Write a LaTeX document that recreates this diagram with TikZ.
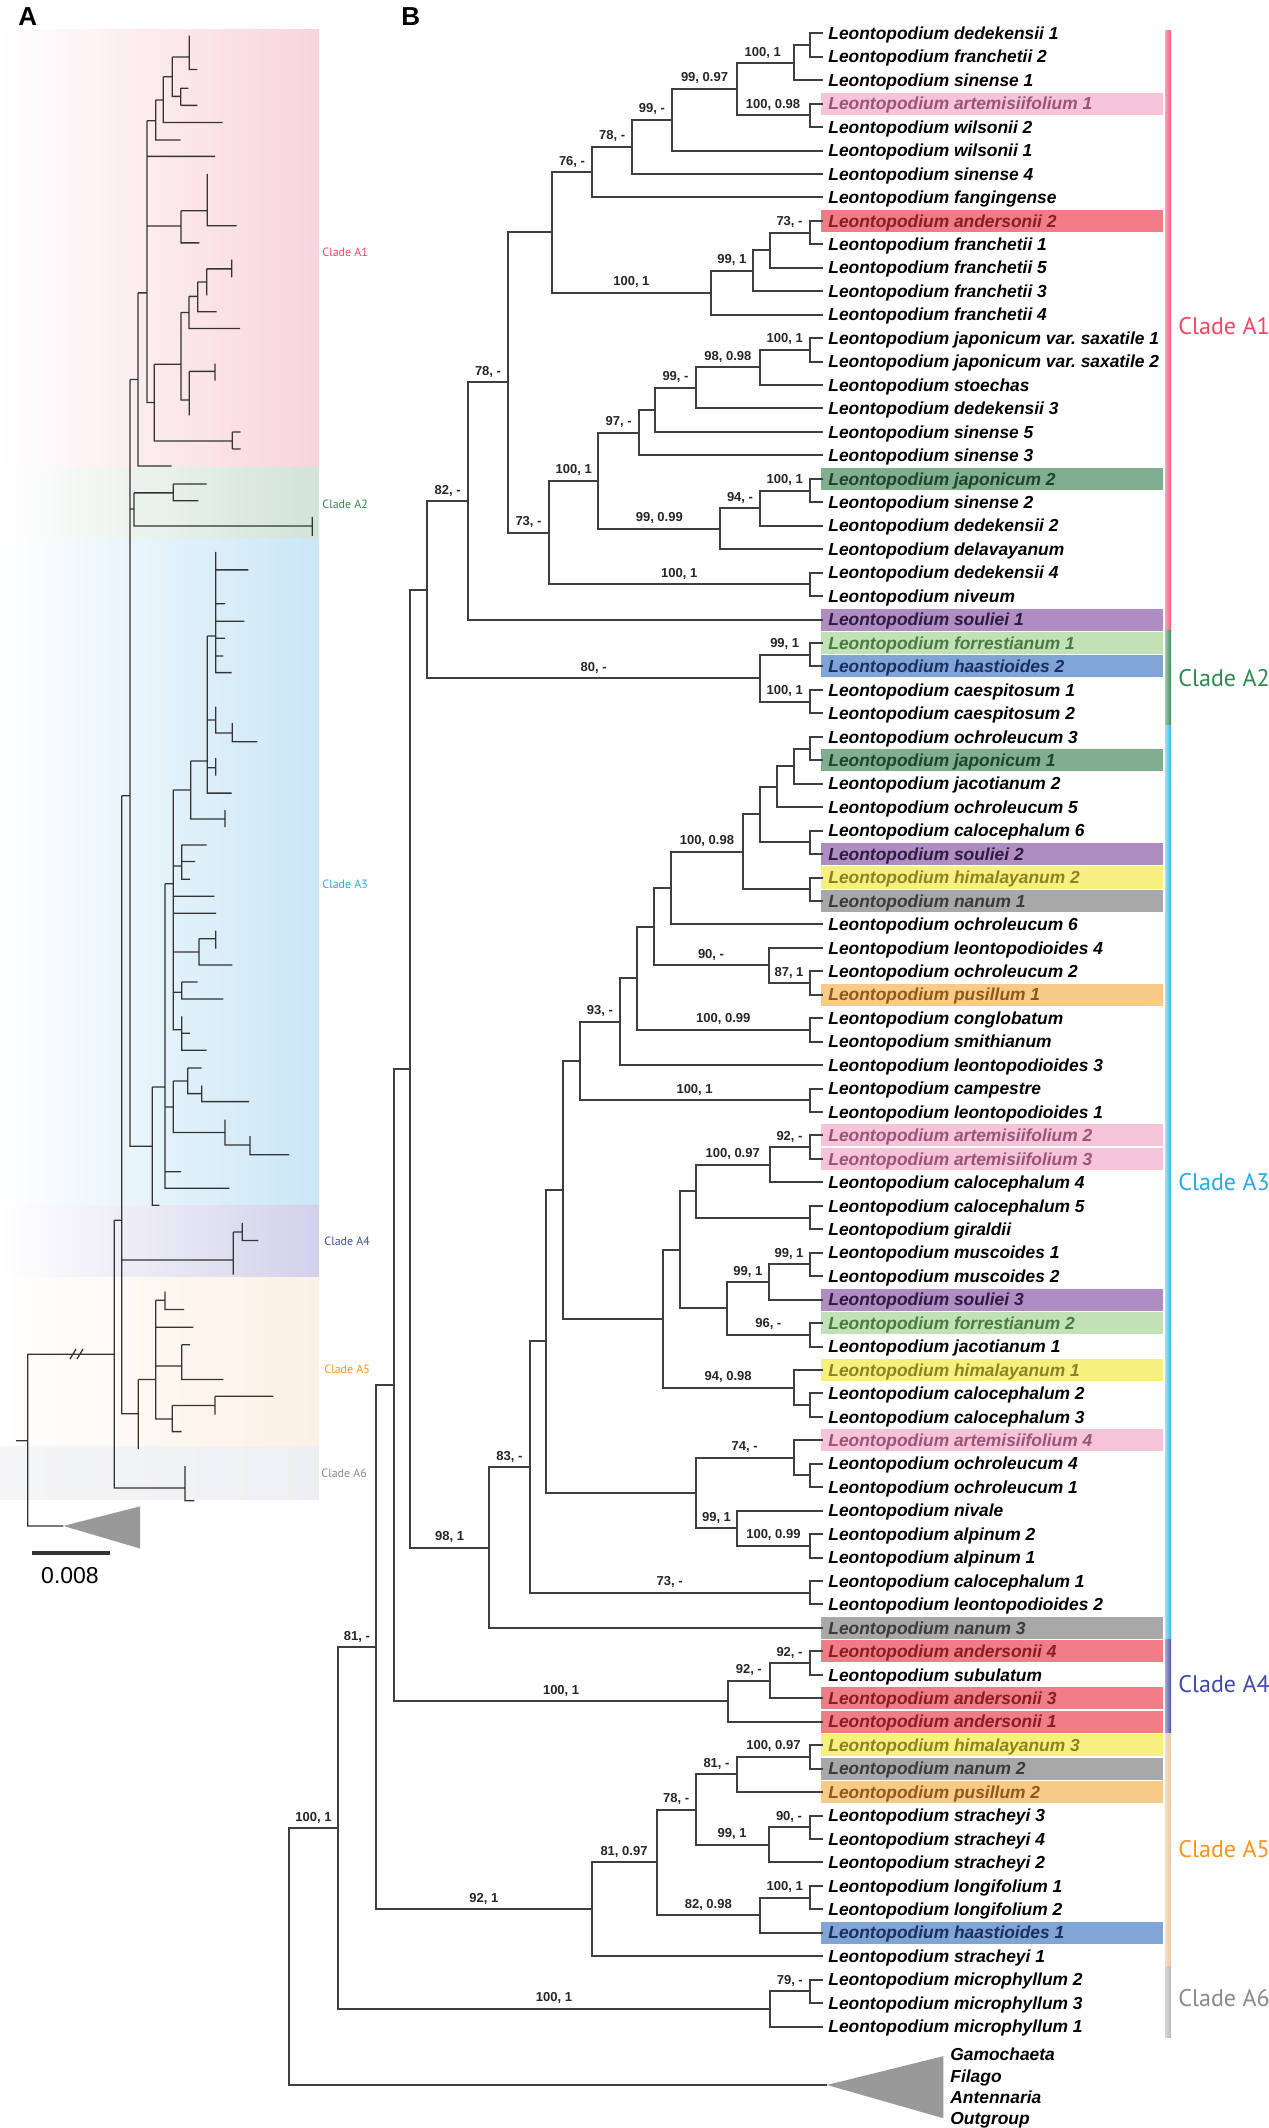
\documentclass[tikz,border=0pt]{standalone}
\usepackage{fontspec}
\setmainfont{Liberation Sans}
\newfontfamily\ptsans{PT Sans}
\usetikzlibrary{calc}
\frenchspacing
\definecolor{brc}{HTML}{3E3E3E}
\definecolor{artF}{HTML}{F5C4D8}\definecolor{artT}{HTML}{9A5478}
\definecolor{andF}{HTML}{EF7C86}\definecolor{andT}{HTML}{8A1C24}
\definecolor{japF}{HTML}{80AE8F}\definecolor{japT}{HTML}{1E4529}
\definecolor{souF}{HTML}{AF8CC2}\definecolor{souT}{HTML}{2D1B40}
\definecolor{forF}{HTML}{C1E1B6}\definecolor{forT}{HTML}{4A7A3E}
\definecolor{haaF}{HTML}{7FA4D5}\definecolor{haaT}{HTML}{1B2F5E}
\definecolor{himF}{HTML}{F8F07E}\definecolor{himT}{HTML}{8C8224}
\definecolor{nanF}{HTML}{A8A8A8}\definecolor{nanT}{HTML}{3A3A3A}
\definecolor{pusF}{HTML}{F8CA88}\definecolor{pusT}{HTML}{8E5A16}
\definecolor{cA1}{HTML}{EE4763}\definecolor{cA2}{HTML}{2D8A4E}
\definecolor{cA3}{HTML}{2AA9E0}\definecolor{cA4}{HTML}{3E4AA5}
\definecolor{cA5}{HTML}{F7941E}\definecolor{cA6}{HTML}{8A8A8A}
\definecolor{bA1l}{HTML}{F5A3B5}\definecolor{bA1r}{HTML}{EC5F7E}
\definecolor{bA2l}{HTML}{A0C8AC}\definecolor{bA2r}{HTML}{3A8A57}
\definecolor{bA3l}{HTML}{A6DDF5}\definecolor{bA3r}{HTML}{36B1E8}
\definecolor{bA4l}{HTML}{A5A9D6}\definecolor{bA4r}{HTML}{4A53A8}
\definecolor{bA5l}{HTML}{F3DFC6}\definecolor{bA5r}{HTML}{E8C8A0}
\definecolor{bA6l}{HTML}{D6D6D6}\definecolor{bA6r}{HTML}{BABABA}
\definecolor{bandA1}{HTML}{F8D4DD}\definecolor{bandA2}{HTML}{D2E3D7}
\definecolor{bandA3}{HTML}{CAE6F6}\definecolor{bandA4}{HTML}{D3D1EA}
\definecolor{bandA5}{HTML}{FCF0E4}\definecolor{bandA6}{HTML}{EEEFF2}
\definecolor{ogray}{HTML}{999999}
\newcommand\leaffont{\fontsize{8.7pt}{10pt}\selectfont\bfseries\itshape}
\newcommand\supfont{\fontsize{6.5pt}{7pt}\selectfont\bfseries}
\tikzset{
  br/.style={draw=brc, line width=1pt},
  tA/.style={draw=black!80, line width=0.65pt},
  leaf/.style={anchor=base west, inner sep=0pt, font=\leaffont, yshift=-3.1pt},
  tn/.style={text=black},
  tart/.style={text=artT}, tand/.style={text=andT}, tjap/.style={text=japT},
  tsou/.style={text=souT}, tfor/.style={text=forT}, thaa/.style={text=haaT},
  thim/.style={text=himT}, tnan/.style={text=nanT}, tpus/.style={text=pusT},
  hart/.style={fill=artF}, hand/.style={fill=andF}, hjap/.style={fill=japF},
  hsou/.style={fill=souF}, hfor/.style={fill=forF}, hhaa/.style={fill=haaF},
  hhim/.style={fill=himF}, hnan/.style={fill=nanF}, hpus/.style={fill=pusF},
  sup/.style={anchor=base, inner sep=0pt, font=\supfont, text=black!85, yshift=3.5pt},
  cladeB/.style={anchor=west, inner sep=0pt, font=\ptsans\fontsize{12pt}{14pt}\selectfont},
  cladeA/.style={anchor=west, inner sep=0pt, font=\ptsans\fontsize{6pt}{7pt}\selectfont},
}
\begin{document}
\begin{tikzpicture}[x=0.5pt,y=-0.5pt]
\useasboundingbox (0,0) rectangle (1268,2128);
% ---------------- Panel A ----------------
\node[anchor=base west, inner sep=0pt, font=\fontsize{13pt}{14pt}\selectfont\bfseries] (labA) at (18,26) {A};
\shade[left color=white, right color=bandA1] (0,30) rectangle (319,468);
\shade[left color=white, right color=bandA2] (0,468) rectangle (319,539);
\shade[left color=white, right color=bandA3] (0,539) rectangle (319,1205);
\shade[left color=white, right color=bandA4] (0,1205) rectangle (319,1277);
\shade[left color=white, right color=bandA5] (0,1277) rectangle (319,1446);
\shade[left color=bandA6!60, right color=bandA6] (0,1446) rectangle (319,1499);
\draw[tA]
 (189.3,35.7) -- (189.3,69.6) -- (197.3,69.6)
 (172.3,57.1) -- (189.3,57.1)
 (172.3,57.1) -- (172.3,96.4) -- (180.7,96.4)
 (180.7,88.2) -- (180.7,105.4)
 (180.7,88.2) -- (188.3,88.2)
 (180.7,105.4) -- (197.3,105.4)
 (163.3,76.8) -- (172.3,76.8)
 (163.3,76.8) -- (163.3,122.5) -- (222.7,122.5)
 (155.7,100) -- (163.3,100)
 (155.7,100) -- (155.7,140) -- (180.7,140)
 (147,120.7) -- (155.7,120.7)
 (147,120.7) -- (147,402.5) -- (154.3,402.5)
 (147,156.4) -- (215,156.4)
 (147,226) -- (181,226)
 (181,210.7) -- (181,242.9) -- (199.3,242.9)
 (181,210.7) -- (207.3,210.7)
 (207.3,174) -- (207.3,225.7) -- (236.7,225.7)
 (154.3,364.3) -- (154.3,441) -- (232.3,441)
 (154.3,364.3) -- (181,364.3)
 (232.3,432) -- (232.3,449)
 (232.3,432) -- (240.7,432)
 (232.3,449) -- (240.7,449)
 (181,312.5) -- (181,400) -- (189.3,400)
 (181,312.5) -- (189,312.5)
 (189,296.4) -- (189,328.6) -- (240,328.6)
 (189,296.4) -- (197.7,296.4)
 (197.7,282.1) -- (197.7,311.8) -- (216.7,311.8)
 (197.7,282.1) -- (206.7,282.1)
 (206.7,268.9) -- (206.7,295.4)
 (206.7,268.9) -- (231.7,268.9)
 (231.7,259.6) -- (231.7,277.5)
 (189.3,371.4) -- (189.3,415.4)
 (189.3,371.4) -- (215,371.4)
 (215,363.6) -- (215,380.7)
 (138,292.9) -- (147,292.9)
 (138,292.9) -- (138,466) -- (171.7,466)
 (130,379.6) -- (138,379.6)
 (130,379.6) -- (130,1146.3) -- (152.3,1146.3)
 (130,509) -- (134,509)
 (134,492.9) -- (134,526) -- (312.3,526)
 (134,492.9) -- (173.3,492.9)
 (312.3,517) -- (312.3,536)
 (173.3,484) -- (173.3,500.7) -- (198.3,500.7)
 (173.3,484) -- (206.7,484)
 (121.7,795.8) -- (130,795.8)
 (152.3,1086.9) -- (152.3,1205.2) -- (159.3,1205.2)
 (152.3,1086.9) -- (165,1086.9)
 (165,883.8) -- (165,1188.2) -- (229.3,1188.2)
 (165,1171.7) -- (181,1171.7)
 (165,883.8) -- (173.3,883.8)
 (173.3,790) -- (173.3,1029.7) -- (181.7,1029.7)
 (173.3,790) -- (190.7,790)
 (173.3,865.9) -- (181.7,865.9)
 (173.3,896.3) -- (214.3,896.3)
 (173.3,913.2) -- (216,913.2)
 (173.3,952) -- (199,952)
 (173.3,992.2) -- (181.7,992.2)
 (190.7,761) -- (190.7,819) -- (225,819)
 (190.7,761) -- (207.3,761)
 (225,810) -- (225,827)
 (207.3,636) -- (207.3,793.1) -- (231.7,793.1)
 (207.3,767.7) -- (215.7,767.7)
 (215.7,757.9) -- (215.7,775.7)
 (207.3,719.9) -- (215.7,719.9)
 (215.7,706.5) -- (215.7,732.9) -- (232.3,732.9)
 (232.3,723) -- (232.3,741.8) -- (257.3,741.8)
 (207.3,636) -- (215.7,636)
 (215.7,552) -- (215.7,672.6) -- (231.7,672.6)
 (215.7,569.9) -- (248.3,569.9)
 (215.7,603.8) -- (225,603.8)
 (215.7,621.3) -- (244.3,621.3)
 (215.7,638.2) -- (225,638.2)
 (215.7,656) -- (223.3,656)
 (181.7,844.9) -- (181.7,879.3) -- (190,879.3)
 (181.7,844.9) -- (206.7,844.9)
 (181.7,861.4) -- (195,861.4)
 (199,938.7) -- (199,965) -- (232.3,965)
 (199,938.7) -- (215.7,938.7)
 (215.7,930.6) -- (215.7,948.5)
 (181.7,982) -- (181.7,998.9) -- (223.3,998.9)
 (181.7,982) -- (197.7,982)
 (181.7,1016.3) -- (181.7,1050.3) -- (206.7,1050.3)
 (181.7,1033.3) -- (190,1033.3)
 (165,1107) -- (173.3,1107)
 (173.3,1081) -- (173.3,1132.4) -- (225,1132.4)
 (173.3,1081) -- (187.7,1081)
 (187.7,1068) -- (187.7,1093.6) -- (201.7,1093.6)
 (187.7,1068) -- (201.7,1068)
 (201.7,1085.5) -- (201.7,1101.6) -- (249,1101.6)
 (225,1119.5) -- (225,1144.9) -- (250,1144.9)
 (250,1136) -- (250,1154.7) -- (289,1154.7)
 (121.7,795.8) -- (121.7,1413.8) -- (138.3,1413.8)
 (114.3,1220.2) -- (121.7,1220.2)
 (121.7,1259.9) -- (233.3,1259.9)
 (233.3,1232) -- (233.3,1274.7)
 (233.3,1232) -- (242.3,1232)
 (242.3,1222.9) -- (242.3,1240.4) -- (258.3,1240.4)
 (138.3,1379.5) -- (138.3,1449.2)
 (138.3,1379.5) -- (155.7,1379.5)
 (155.7,1300.3) -- (155.7,1419.5)
 (155.7,1300.3) -- (165,1300.3)
 (165,1291.6) -- (165,1309.4) -- (184,1309.4)
 (155.7,1327.3) -- (193.3,1327.3)
 (155.7,1366) -- (181.7,1366)
 (181.7,1344.8) -- (181.7,1379.5) -- (223.3,1379.5)
 (181.7,1344.8) -- (190,1344.8)
 (155.7,1418.9) -- (172.3,1418.9)
 (172.3,1405.4) -- (172.3,1431.6) -- (181.7,1431.6)
 (172.3,1405.4) -- (215,1405.4)
 (215,1396.3) -- (215,1414.5)
 (215,1396.3) -- (273.3,1396.3)
 (114.3,1220.2) -- (114.3,1487.9) -- (185,1487.9)
 (185,1466) -- (185,1500.7) -- (194.3,1500.7)
 (27.7,1354.2) -- (114.3,1354.2)
 (27.7,1354.2) -- (27.7,1525.9) -- (63.3,1525.9)
 (16,1440.7) -- (27.7,1440.7)
 (70,1359) -- (76,1349) (77,1359) -- (83,1349);
\fill[ogray] (63.3,1525.9) -- (140,1506.4) -- (140,1548.5) -- cycle;
\draw[line width=2pt, black!80] (32,1553) -- (110,1553);
\node[inner sep=0pt, font=\fontsize{11.5pt}{12pt}\selectfont] (scl) at (70,1576) {0.008};
\node[cladeA, text=cA1] (ca1) at (322,252) {Clade A1};
\node[cladeA, text=cA2] (ca2) at (322,504) {Clade A2};
\node[cladeA, text=cA3] (ca3) at (322,884) {Clade A3};
\node[cladeA, text=cA4] (ca4) at (324,1241) {Clade A4};
\node[cladeA, text=cA5] (ca5) at (324,1369) {Clade A5};
\node[cladeA, text=cA6] (ca6) at (321,1473) {Clade A6};
% ---------------- Panel B ----------------
\node[anchor=base west, inner sep=0pt, font=\fontsize{13pt}{14pt}\selectfont\bfseries] (labB) at (401,26) {B};
\begin{scope}[y=-11.725pt, yshift=-4.925pt]
\foreach \r/\c in {4/hart, 9/hand, 20/hjap, 26/hsou, 27/hfor, 28/hhaa, 32/hjap, 36/hsou, 37/hhim, 38/hnan, 42/hpus, 48/hart, 49/hart, 55/hsou, 56/hfor, 58/hhim, 61/hart, 69/hnan, 70/hand, 72/hand, 73/hand, 74/hhim, 75/hnan, 76/hpus, 82/hhaa}
  \fill[\c] (821,{\r-0.47}) rectangle (1163,{\r+0.47});
\shade[left color=bA1l, right color=bA1r] (1165,0.9) rectangle (1171,26.47);
\shade[left color=bA2l, right color=bA2r] (1165,26.47) rectangle (1171,30.5);
\shade[left color=bA3l, right color=bA3r] (1165,30.5) rectangle (1171,69.5);
\shade[left color=bA4l, right color=bA4r] (1165,69.5) rectangle (1171,73.5);
\shade[left color=bA5l, right color=bA5r] (1165,73.5) rectangle (1171,83.45);
\shade[left color=bA6l, right color=bA6r] (1165,83.45) rectangle (1171,86.45);
\foreach \r/\nm/\st in {1/dedekensii 1/tn, 2/franchetii 2/tn, 3/sinense 1/tn, 4/artemisiifolium 1/tart, 5/wilsonii 2/tn, 6/wilsonii 1/tn, 7/sinense 4/tn, 8/fangingense/tn, 9/andersonii 2/tand, 10/franchetii 1/tn, 11/franchetii 5/tn, 12/franchetii 3/tn, 13/franchetii 4/tn, 14/japonicum var. saxatile 1/tn, 15/japonicum var. saxatile 2/tn, 16/stoechas/tn, 17/dedekensii 3/tn, 18/sinense 5/tn, 19/sinense 3/tn, 20/japonicum 2/tjap, 21/sinense 2/tn, 22/dedekensii 2/tn, 23/delavayanum/tn, 24/dedekensii 4/tn, 25/niveum/tn, 26/souliei 1/tsou, 27/forrestianum 1/tfor, 28/haastioides 2/thaa, 29/caespitosum 1/tn, 30/caespitosum 2/tn, 31/ochroleucum 3/tn, 32/japonicum 1/tjap, 33/jacotianum 2/tn, 34/ochroleucum 5/tn, 35/calocephalum 6/tn, 36/souliei 2/tsou, 37/himalayanum 2/thim, 38/nanum 1/tnan, 39/ochroleucum 6/tn, 40/leontopodioides 4/tn, 41/ochroleucum 2/tn, 42/pusillum 1/tpus, 43/conglobatum/tn, 44/smithianum/tn, 45/leontopodioides 3/tn, 46/campestre/tn, 47/leontopodioides 1/tn, 48/artemisiifolium 2/tart, 49/artemisiifolium 3/tart, 50/calocephalum 4/tn, 51/calocephalum 5/tn, 52/giraldii/tn, 53/muscoides 1/tn, 54/muscoides 2/tn, 55/souliei 3/tsou, 56/forrestianum 2/tfor, 57/jacotianum 1/tn, 58/himalayanum 1/thim, 59/calocephalum 2/tn, 60/calocephalum 3/tn, 61/artemisiifolium 4/tart, 62/ochroleucum 4/tn, 63/ochroleucum 1/tn, 64/nivale/tn, 65/alpinum 2/tn, 66/alpinum 1/tn, 67/calocephalum 1/tn, 68/leontopodioides 2/tn, 69/nanum 3/tnan, 70/andersonii 4/tand, 71/subulatum/tn, 72/andersonii 3/tand, 73/andersonii 1/tand, 74/himalayanum 3/thim, 75/nanum 2/tnan, 76/pusillum 2/tpus, 77/stracheyi 3/tn, 78/stracheyi 4/tn, 79/stracheyi 2/tn, 80/longifolium 1/tn, 81/longifolium 2/tn, 82/haastioides 1/thaa, 83/stracheyi 1/tn, 84/microphyllum 2/tn, 85/microphyllum 3/tn, 86/microphyllum 1/tn}
{
  \coordinate (L\r) at (823,\r);
  \node[leaf,\st] (t\r) at (828,\r) {Leontopodium \nm};
}
\foreach \p/\px/\py in {a1/809.5/1.5, a2/793.5/2.25, a3/809.5/4.5, a4/737.2/3.375, a5/671.8/4.6875, a6/632/5.84375, a7/592.2/6.921875, a8/809.5/9.5, a9/769.6/10.25, a10/752.6/11.125, a11/711/12.0625, a12/551.8/9.4921875, b1/809.5/14.5, b2/760/15.25, b3/695.7/16.125, b4/655.3/17.0625, b5/638.8/18.03125, b6/809.5/20.5, b7/760/21.25, b8/720.2/22.125, b9/598.4/20.078125, b10/809.5/24.5, b11/549/22.2890625, b12/508/15.890625, b13/468.2/20.9453125, c1/809.5/27.5, c2/809.5/29.5, c3/760/28.5, b14/427.2/24.72265625, c4/809.5/31.5, c5/793.5/32.25, c6/776.5/33.125, c7/809.5/35.5, c8/760/34.3125, c9/809.5/37.5, c10/743/35.90625, c11/670.7/37.453125, c14/809.5/41.5, c13/768.5/40.75, c12/653.6/39.1015625, d0/809.5/43.5, d1/637/41.30078, d2/620/43.15039, d3/809.5/46.5, d4/579.7/44.82520, e2/809.5/48.5, e3/769.6/49.25, e4/809.5/51.5, e5/695.7/50.375, e6/809.5/53.5, e7/768.5/54.25, e8/809.5/56.5, e9/727/55.375, e10/679.8/52.875, e11/809.5/59.5, e12/793.5/58.75, e13/662.7/55.8125, d5/562.6/50.31885, f1/809.5/62.5, f2/793.5/61.75, f3/809.5/65.5, f4/737.2/64.75, f5/695.7/63.25, d6/545.5/56.78442, f6/809.5/67.5, f7/529.6/62.14221, f8/489.2/65.57111, g1/410/45.14688, h2/809.5/70.5, h3/769.6/71.25, h1/728/72.125, g2/394.2/58.63594, i1/809.5/74.5, i2/737.2/75.25, i3/809.5/77.5, i4/768.5/78.25, i5/695.7/76.75, i6/809.5/80.5, i7/760/81.25, i8/656.5/79, i9/591.6/81, g3/376/69.81797, j1/809.5/84.5, j2/770/85.25, g4/338/77.53399, og/827/88.49, rt/289/83.01}
  \coordinate (\p) at (\px,\py);
\coordinate (ogt) at (943.4,87.26);
\coordinate (ogb) at (943.4,89.91);
\fill[ogray] (og) -- (ogt) -- (ogb) -- cycle;
\foreach \p/\u/\v in {a1/L1/L2, a2/a1/L3, a3/L4/L5, a4/a2/a3, a5/a4/L6, a6/a5/L7, a7/a6/L8, a8/L9/L10, a9/a8/L11, a10/a9/L12, a11/a10/L13, a12/a7/a11, b1/L14/L15, b2/b1/L16, b3/b2/L17, b4/b3/L18, b5/b4/L19, b6/L20/L21, b7/b6/L22, b8/b7/L23, b9/b5/b8, b10/L24/L25, b11/b9/b10, b12/a12/b11, b13/b12/L26, c1/L27/L28, c2/L29/L30, c3/c1/c2, b14/b13/c3, c4/L31/L32, c5/c4/L33, c6/c5/L34, c7/L35/L36, c8/c6/c7, c9/L37/L38, c10/c8/c9, c11/c10/L39, c14/L41/L42, c13/L40/c14, c12/c11/c13, d0/L43/L44, d1/c12/d0, d2/d1/L45, d3/L46/L47, d4/d2/d3, e2/L48/L49, e3/e2/L50, e4/L51/L52, e5/e3/e4, e6/L53/L54, e7/e6/L55, e8/L56/L57, e9/e7/e8, e10/e5/e9, e11/L59/L60, e12/L58/e11, e13/e10/e12, d5/d4/e13, f1/L62/L63, f2/L61/f1, f3/L65/L66, f4/L64/f3, f5/f2/f4, d6/d5/f5, f6/L67/L68, f7/d6/f6, f8/f7/L69, g1/b14/f8, h2/L70/L71, h3/h2/L72, h1/h3/L73, g2/g1/h1, i1/L74/L75, i2/i1/L76, i3/L77/L78, i4/i3/L79, i5/i2/i4, i6/L80/L81, i7/i6/L82, i8/i5/i7, i9/i8/L83, g3/g2/i9, j1/L84/L85, j2/j1/L86, g4/g3/j2, rt/g4/og}
  \draw[br] (\u) -| (\p) |- (\v);
\node[sup, yshift=-9pt] (sa1) at (762.8,0 |- a1) {100, 1};
\foreach \p/\lx/\lt in {a3/773/{100, 0.98}, a4/704.5/{99, 0.97}, a5/651.9/{99, -}, a6/612.1/{78, -}, a7/572/{76, -}, a8/789.5/{73, -}, a10/731.8/{99, 1}, a11/631.4/{100, 1}, b1/784.7/{100, 1}, b2/727.9/{98, 0.98}, b3/675.5/{99, -}, b5/618.6/{97, -}, b6/784.7/{100, 1}, b7/740/{94, -}, b8/659.3/{99, 0.99}, b9/573.7/{100, 1}, b10/679.2/{100, 1}, b11/528.5/{73, -}, b12/488/{78, -}, b13/447.7/{82, -}, c1/784.7/{99, 1}, c2/784.7/{100, 1}, c3/593.6/{80, -}, c10/706.9/{100, 0.98}, c13/711/{90, -}, c14/789/{87, 1}, d0/723.3/{100, 0.99}, d2/599.9/{93, -}, d3/694.6/{100, 1}, e2/789.5/{92, -}, e3/732.7/{100, 0.97}, e6/789/{99, 1}, e7/747.8/{99, 1}, e8/768.3/{96, -}, e12/728.1/{94, 0.98}, f2/744.6/{74, -}, f3/773.4/{100, 0.99}, f4/716.5/{99, 1}, f6/669.6/{73, -}, f7/509.4/{83, -}, f8/449.6/{98, 1}, h1/561.1/{100, 1}, h2/789.5/{92, -}, h3/748.8/{92, -}, i1/773.4/{100, 0.97}, i2/716.5/{81, -}, i3/789/{90, -}, i4/732.1/{99, 1}, i5/676.1/{78, -}, i6/784.8/{100, 1}, i7/708.3/{82, 0.98}, i8/624/{81, 0.97}, i9/483.8/{92, 1}, j1/789.8/{79, -}, j2/554/{100, 1}, g3/357/{81, -}, g4/313.5/{100, 1}}
  \node[sup] (s\p) at (\lx,0 |- \p) {\lt};
\node[leaf] (og1) at (950,87.17) {Gamochaeta};
\node[leaf] (og2) at (950,88.1) {Filago};
\node[leaf] (og3) at (950,89.02) {Antennaria};
\node[leaf] (og4) at (950,89.9) {Outgroup};
\node[cladeB, text=cA1] (cb1) at (1178,13.5) {Clade A1};
\node[cladeB, text=cA2] (cb2) at (1178,28.5) {Clade A2};
\node[cladeB, text=cA3] (cb3) at (1178,50) {Clade A3};
\node[cladeB, text=cA4] (cb4) at (1178,71.4) {Clade A4};
\node[cladeB, text=cA5] (cb5) at (1178,78.45) {Clade A5};
\node[cladeB, text=cA6] (cb6) at (1178,84.8) {Clade A6};
\end{scope}
\end{tikzpicture}
\end{document}
